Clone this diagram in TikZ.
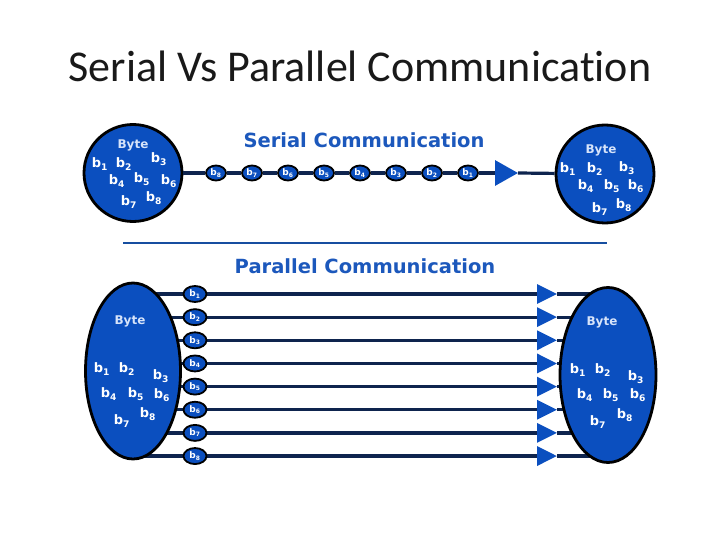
\documentclass[tikz,border=0pt]{standalone}
\usepackage{fontspec}
\setmainfont{Carlito}[Ligatures=NoCommon]
\newfontfamily\verd{DejaVu Sans}
\usepackage{xcolor}
\usepackage{tikz}
\usetikzlibrary{arrows.meta, shapes.geometric, backgrounds}
\definecolor{ballblue}{RGB}{11,79,191}
\definecolor{wirenavy}{RGB}{14,36,78}
\definecolor{headblue}{RGB}{28,88,188}
\definecolor{ruleblue}{RGB}{22,78,160}
\definecolor{bytetxt}{RGB}{215,228,250}
\tikzset{
  ball/.style={ellipse, draw=black, line width=2.8pt, fill=ballblue, inner sep=0pt},
  bitdot/.style={ellipse, draw=black, line width=1.8pt, fill=ballblue, inner sep=0pt,
                 minimum width=20pt, minimum height=15pt, text=white,
                 font=\verd\bfseries\fontsize{9}{9}\selectfont},
  pbit/.style={minimum width=23pt, minimum height=16pt},
  bytelbl/.style={text=bytetxt, inner sep=0pt, font=\verd\bfseries\fontsize{12}{12}\selectfont},
  bitlbl/.style={text=white, inner sep=0pt, font=\verd\bfseries\fontsize{13}{13}\selectfont},
  headtxt/.style={anchor=base, text=headblue, inner sep=0pt,
                  font=\verd\bfseries\fontsize{19.5}{19.5}\selectfont},
  titletxt/.style={anchor=base, text=black!90, inner sep=0pt,
                   font=\fontsize{44}{44}\selectfont},
  wire/.style={line width=3.2pt, draw=wirenavy},
  sepline/.style={line width=2pt, draw=ruleblue},
  tipS/.style={-{Triangle[length=23pt, width=25pt, color=ballblue]}},
  tipP/.style={-{Triangle[length=20pt, width=19pt, color=ballblue]}},
}
% labels inside a byte ball: #1 ball name, #2 Byte offset, #3 list i/dx/dy
\newcommand{\bytebits}[3]{%
  \node[bytelbl] (#1-byte) at ([shift={#2}]#1.center) {Byte};
  \foreach \i/\dx/\dy in {#3}
    \node[bitlbl] (#1-b\i) at ([shift={(\dx,\dy)}]#1.center) {b\textsubscript{\i}};
}
\begin{document}
\begin{tikzpicture}[x=1pt, y=-1pt]
  \begin{pgfonlayer}{background}
    \path[use as bounding box, fill=white] (0,0) rectangle (720,540);
  \end{pgfonlayer}
  \node[titletxt] (title) at (360,82) {Serial Vs Parallel Communication};

  % serial
  \node[headtxt] (serhead) at (364,148) {Serial Communication};
  \node[ball, minimum width=98pt, minimum height=97pt] (sl) at (133,173) {};
  \node[ball, minimum width=98pt, minimum height=98pt] (sr) at (605,174) {};
  \foreach \i/\x in {8/216, 7/252, 6/288, 5/324, 4/360, 3/396, 2/432, 1/468}
    \node[bitdot] (s\i) at (\x,173) {b\textsubscript{\i}};
  \coordinate (sa) at (518,173);
  \draw[wire] (sl) -- (s8) -- (s7) -- (s6) -- (s5) -- (s4) -- (s3) -- (s2) -- (s1);
  \draw[wire, tipS] (s1) -- (sa);
  \draw[wire] (sa) -- (sr);
  \bytebits{sl}{(0,-28)}{1/-33/-9, 2/-9/-9, 3/26/-14, 4/-16/8, 5/9/6, 6/36/8, 7/-4/29, 8/21/25}
  \bytebits{sr}{(-4,-24)}{1/-37/-5, 2/-10/-5, 3/22/-6, 4/-19/12, 5/7/12, 6/31/12, 7/-5/35, 8/19/31}

  \coordinate (rl) at (123,243);
  \coordinate (rr) at (607,243);
  \draw[sepline] (rl) -- (rr);

  % parallel
  \node[headtxt] (parhead) at (365,273) {Parallel Communication};
  \node[ball, minimum width=95pt, minimum height=176pt] (pl) at (133,371) {};
  \node[ball, minimum width=96pt, minimum height=175pt] (pr) at (608,375) {};
  \foreach \i in {1,...,8} {
    \pgfmathsetmacro\yy{294+(\i-1)*23.15}
    \node[bitdot, pbit] (p\i) at (195,\yy) {b\textsubscript{\i}};
    \coordinate (t\i) at (557,\yy);
  }
  \begin{pgfonlayer}{background}
    \foreach \i in {1,...,8} {
      \draw[wire] (pl.center |- p\i) -- (p\i);
      \draw[wire, tipP] (p\i) -- (t\i);
      \draw[wire] (t\i) -- (pr.center |- t\i);
    }
  \end{pgfonlayer}
  \bytebits{pl}{(-3,-50)}{1/-31/-2, 2/-6/-2, 3/28/5, 4/-24/23, 5/3/23, 6/29/24, 7/-11/50, 8/15/43}
  \bytebits{pr}{(-6,-53)}{1/-30/-5, 2/-5/-5, 3/28/2, 4/-23/20, 5/3/20, 6/30/20, 7/-10/47, 8/17/40}
\end{tikzpicture}
\end{document}
